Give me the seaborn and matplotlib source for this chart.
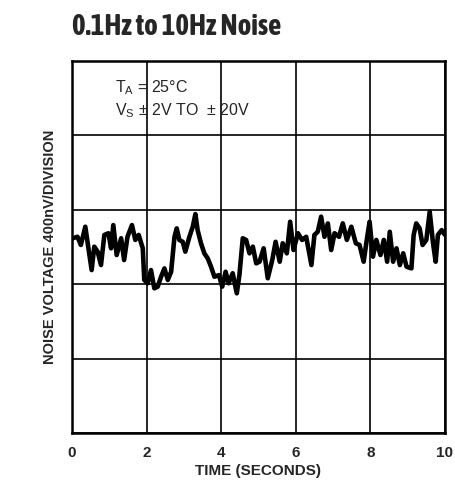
import numpy as np
import pandas as pd
import matplotlib
matplotlib.use("Agg")
import matplotlib.pyplot as plt
from matplotlib import font_manager
import seaborn as sns

# time in seconds, noise in nV (400nV per division)
time_s = [0.02, 0.15, 0.24, 0.36, 0.45, 0.53, 0.60, 0.69, 0.78, 0.87, 0.98, 1.05, 1.11, 1.20, 1.32,
          1.40, 1.49, 1.61, 1.70, 1.79, 1.90, 1.94, 2.03, 2.12, 2.21, 2.30, 2.39, 2.48, 2.57, 2.66,
          2.75, 2.81, 2.88, 2.97, 3.04, 3.15, 3.24, 3.31, 3.37, 3.46, 3.55, 3.64, 3.73, 3.82, 3.94,
          4.03, 4.12, 4.20, 4.31, 4.42, 4.49, 4.58, 4.67, 4.76, 4.85, 4.94, 5.03, 5.14, 5.25, 5.37,
          5.46, 5.57, 5.65, 5.76, 5.85, 5.94, 6.06, 6.17, 6.28, 6.42, 6.50, 6.59, 6.68, 6.77, 6.86,
          6.95, 7.04, 7.16, 7.26, 7.37, 7.49, 7.61, 7.71, 7.82, 7.91, 7.98, 8.07, 8.16, 8.27, 8.36,
          8.45, 8.52, 8.61, 8.70, 8.79, 8.88, 8.97, 9.10, 9.16, 9.23, 9.32, 9.40, 9.50, 9.59, 9.68,
          9.75, 9.81, 9.91, 10.0]
noise_nv = [47, 55, 11, 109, -16, -124, 2, -25, -97, 65, 74, -7, 118, -43, 47,
            -70, 55, 118, 38, 65, -7, -177, -195, -124, -222, -213, -160, -115, -177, -133,
            55, 100, 38, 28, -25, 55, 109, 177, 91, 20, -34, -61, -106, -160, -151,
            -213, -133, -195, -141, -249, -151, 47, 38, -34, 2, -88, -79, -7, -168, -70,
            28, -79, 20, -34, 136, -16, 74, 38, 55, -97, 65, 82, 163, 55, 127,
            -16, 74, 55, 127, 38, 109, 20, 11, -79, 47, 136, -52, 38, -43, 38,
            -79, 82, -79, -7, -97, -34, -106, -115, 65, 127, 100, 11, 38, 190, 20,
            -79, 65, 91, 65]

x_ticks = [0, 2, 4, 6, 8, 10]
y_grid = [-1000, -600, -200, 200, 600, 1000]

df = pd.DataFrame({"Time": time_s, "Noise": noise_nv})

sns.set_style("white")
plt.rcParams['font.family'] = ['Liberation Sans', 'DejaVu Sans']

# condensed bold face for the title, if one is installed
bold_narrow = sorted({f.name for f in font_manager.fontManager.ttflist
                      if ("Narrow" in f.name or "Condensed" in f.name)
                      and isinstance(f.weight, int) and f.weight >= 600})
title_family = bold_narrow[:1] + ['Liberation Sans', 'DejaVu Sans']
title_size = 21 if bold_narrow else 18

fig = plt.figure(figsize=(4.55, 4.9), dpi=100)
ax = fig.add_axes([0.158, 0.1163, 0.820, 0.7592])

sns.lineplot(data=df, x="Time", y="Noise", color="black", linewidth=3.3, ax=ax)

ax.set_xlim(0, 10)
ax.set_ylim(-1000, 1000)
ax.set_xticks(x_ticks)
ax.set_xticklabels([str(t) for t in x_ticks], fontsize=11, fontweight="bold")
ax.set_yticks(y_grid)
ax.set_yticklabels([])
ax.tick_params(axis="x", length=0, pad=9)
ax.tick_params(axis="y", length=0, pad=0)
ax.grid(True, color="black", linewidth=1.2)
for s in ax.spines.values():
    s.set_visible(True)
    s.set_color("black")
    s.set_linewidth(1.8)

ax.set_xlabel("TIME (SECONDS)", fontsize=11, fontweight="bold", labelpad=3)
ax.set_ylabel("NOISE VOLTAGE 400nV/DIVISION", fontsize=10.5, fontweight="bold", labelpad=11)

ax.text(0.115, 0.915, r"T$_\mathregular{A}$ = 25°C", transform=ax.transAxes, fontsize=11.5)
ax.text(0.115, 0.853, r"V$_\mathregular{S}$ ± 2V TO  ± 20V", transform=ax.transAxes, fontsize=11.5)

fig.text(0.158, 0.945, "0.1Hz to 10Hz Noise", fontsize=title_size, fontweight="bold",
         family=title_family, va="center", ha="left")

fig.savefig("out.png", dpi=100)
